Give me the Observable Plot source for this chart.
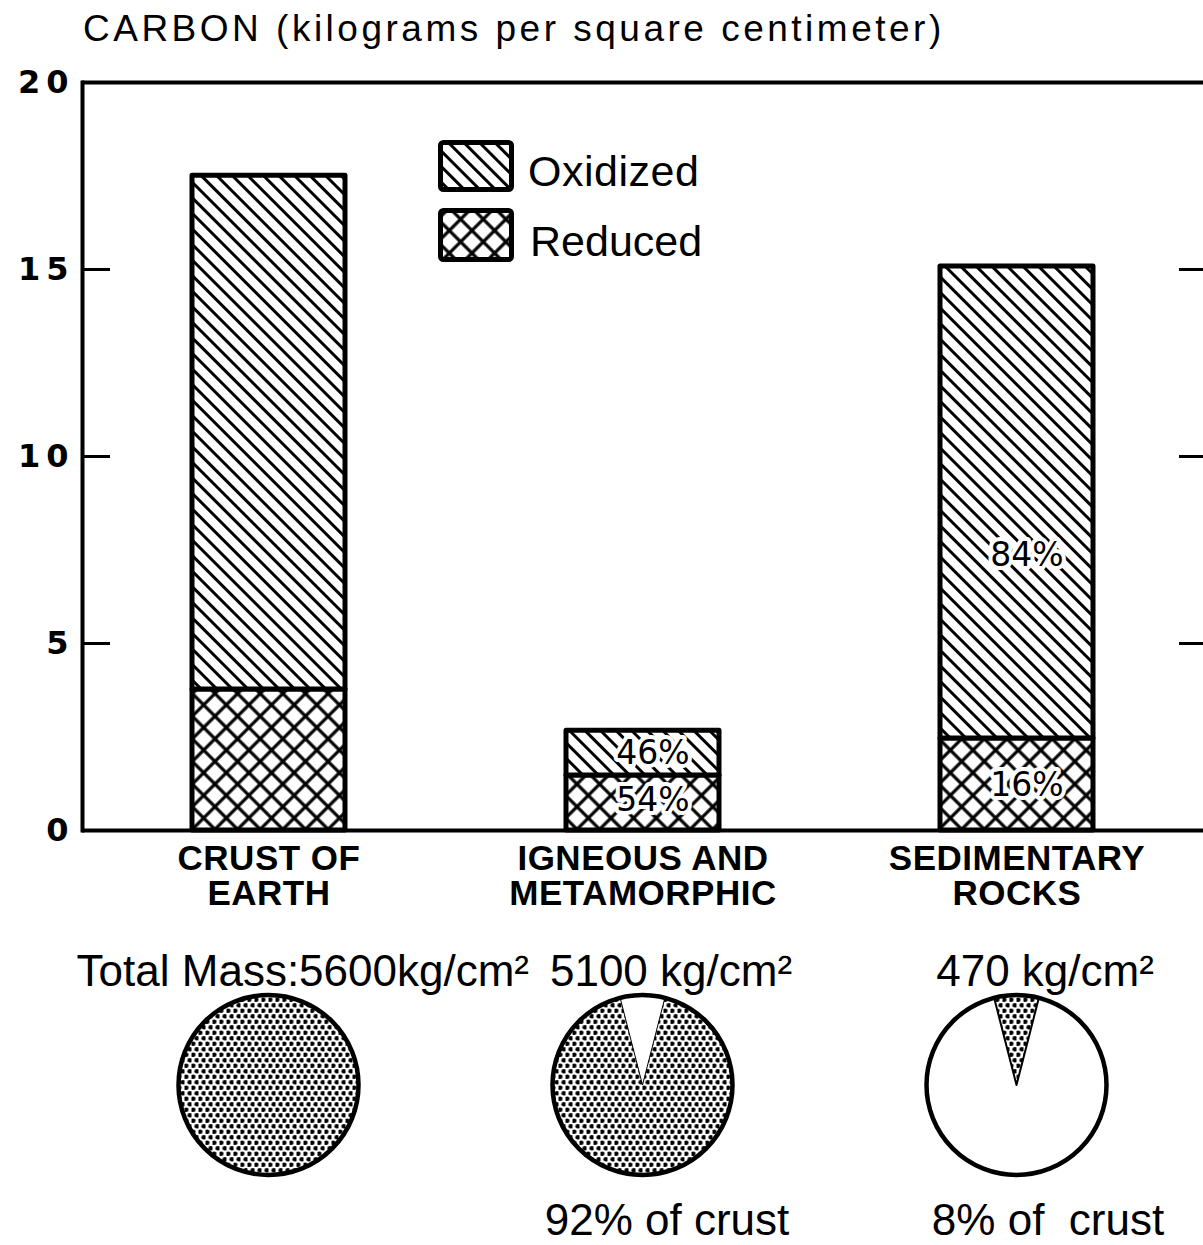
<!DOCTYPE html>
<html>
<head>
<meta charset="utf-8">
<script src="https://cdn.jsdelivr.net/npm/d3@7"></script>
<script src="https://cdn.jsdelivr.net/npm/@observablehq/plot@0.6"></script>
<style>
  html, body { margin: 0; padding: 0; background: #fff; }
  #wrap { position: relative; width: 1203px; height: 1245px; overflow: hidden; background: #fff; }
  #title { position: relative; height: 60px; }
  #title span { position: absolute; left: 83px; top: 10px; font-family: "Liberation Sans", Arial, sans-serif; font-size: 37px; line-height: 37px; letter-spacing: 3.5px; color: #000; white-space: nowrap; }
  #legend { position: absolute; left: 438px; top: 140px; }
  .carbon g[aria-label="y-axis tick label"] text { letter-spacing: 6px; }
  .carbon g[aria-label="pct"] text { letter-spacing: 4px; }
  .carbon g[aria-label="mass"] text { letter-spacing: 0.6px; }
  .carbon g[aria-label="share"] text { letter-spacing: 0.8px; }
  .carbon g[aria-label="x-axis tick label"] text { letter-spacing: 0.5px; }
</style>
</head>
<body>
<svg width="0" height="0" style="position:absolute">
  <defs>
    <pattern id="hatch" patternUnits="userSpaceOnUse" width="11" height="11" patternTransform="rotate(45)">
      <rect width="11" height="11" fill="#fff"/>
      <line x1="-1" y1="5.5" x2="12" y2="5.5" stroke="#000" stroke-width="3"/>
    </pattern>
    <pattern id="cross" patternUnits="userSpaceOnUse" width="16" height="16" patternTransform="rotate(45)">
      <rect width="16" height="16" fill="#fff"/>
      <line x1="-1" y1="8" x2="17" y2="8" stroke="#000" stroke-width="3.2"/>
      <line x1="8" y1="-1" x2="8" y2="17" stroke="#000" stroke-width="3.2"/>
    </pattern>
    <pattern id="dots" patternUnits="userSpaceOnUse" width="7" height="11">
      <rect width="7" height="11" fill="#fff"/>
      <circle cx="1.75" cy="2.75" r="2.3" fill="#000"/>
      <circle cx="5.25" cy="8.25" r="2.3" fill="#000"/>
    </pattern>
  </defs>
</svg>
<div id="wrap">
  <div id="title"><span>CARBON (kilograms per square centimeter)</span></div>
  <div id="chart"></div>
  <svg id="legend" width="290" height="130">
    <rect x="2.5" y="2.5" width="71" height="47" rx="3" fill="url(#hatch)" stroke="#000" stroke-width="5"/>
    <rect x="2.5" y="70.5" width="71" height="49" rx="3" fill="url(#cross)" stroke="#000" stroke-width="5"/>
    <text x="90" y="46" font-family="Liberation Sans, Arial, sans-serif" font-size="43" letter-spacing="0.5">Oxidized</text>
    <text x="92" y="116" font-family="Liberation Sans, Arial, sans-serif" font-size="43" letter-spacing="0">Reduced</text>
  </svg>
</div>
<script>
// ---- data ----
const categories = ["CRUST OF\nEARTH", "IGNEOUS AND\nMETAMORPHIC", "SEDIMENTARY\nROCKS"];
const seriesNames = ["Reduced", "Oxidized"];
const reducedValues = [3.77, 1.47, 2.46];     // kg C / cm^2
const oxidizedValues = [13.74, 1.2, 12.62];   // kg C / cm^2
const yTicks = [0, 5, 10, 15, 20];
const innerTicks = [5, 10, 15];
const pctCategoryIndex = [1, 1, 2, 2];
const pctTexts = ["54%", "46%", "16%", "84%"];
const pctValues = [0.8, 2.05, 1.2, 7.35];
const massLabels = ["Total Mass:5600kg/cm²", "5100 kg/cm²", "470 kg/cm²"];
const crustShare = [100, 92, 8];              // % of crust mass
const shareLabels = ["", "92% of crust", "8% of  crust"];

// ---- tables built from the arrays ----
const rows = categories.flatMap((c, i) => [
  {cat: c, series: "Reduced", value: reducedValues[i]},
  {cat: c, series: "Oxidized", value: oxidizedValues[i]}
]);
const pctRows = pctTexts.map((t, i) => ({cat: categories[pctCategoryIndex[i]], text: t, value: pctValues[i]}));
const massRows = categories.map((c, i) => ({cat: c, label: massLabels[i], share: crustShare[i], shareLabel: shareLabels[i]}));

const FONT = "Liberation Sans, Arial, sans-serif";

function pies(index, scales, values, dimensions) {
  const g = d3.create("svg:g").attr("aria-label", "pies");
  const xs = scales.x;
  const bw = xs.bandwidth ? xs.bandwidth() : 0;
  const cy = dimensions.height - dimensions.marginBottom + 255;
  const r = 90;
  const arc = d3.arc().innerRadius(0).outerRadius(r);
  massRows.forEach((d) => {
    const cx = xs(d.cat) + bw / 2;
    const share = d.share / 100;
    const gi = g.append("g").attr("transform", `translate(${cx},${cy})`);
    gi.append("circle").attr("r", r).attr("fill", share >= 0.5 ? "url(#dots)" : "#fff");
    if (share > 0 && share < 1) {
      const minor = Math.min(share, 1 - share);
      const a = minor * Math.PI;
      gi.append("path")
        .attr("d", arc({startAngle: -a, endAngle: a}))
        .attr("fill", share >= 0.5 ? "#fff" : "url(#dots)")
        .attr("stroke", "#000")
        .attr("stroke-width", share >= 0.5 ? 1 : 2)
        .attr("stroke-linejoin", "round");
    }
    gi.append("circle").attr("r", r).attr("fill", "none").attr("stroke", "#000").attr("stroke-width", 4.5);
  });
  return g.node();
}

const chart = Plot.plot({
  className: "carbon",
  width: 1203,
  height: 1185,
  marginLeft: 82,
  marginRight: 0,
  marginTop: 22,
  marginBottom: 415,
  style: {fontFamily: FONT, color: "#000", background: "#fff", overflow: "visible"},
  x: {domain: categories, paddingInner: 0.591, paddingOuter: 0.294, axis: null},
  y: {domain: [0, 20], axis: null},
  color: {domain: seriesNames, range: ["url(#cross)", "url(#hatch)"]},
  marks: [
    Plot.barY(rows, {x: "cat", y: "value", fill: "series", stroke: "#000", strokeWidth: 5, strokeLinejoin: "round"}),
    Plot.text(pctRows, {x: "cat", y: "value", text: "text", fontSize: 33, fontFamily: "DejaVu Sans, sans-serif",
      fill: "#000", stroke: "#fff", strokeWidth: 8, paintOrder: "stroke", dx: 10, ariaLabel: "pct"}),
    Plot.frame({anchor: "left", strokeWidth: 4}),
    Plot.ruleY([0, 20], {strokeWidth: 4}),
    Plot.axisY({anchor: "left", ticks: yTicks, tickSize: 0, tickPadding: 8, label: null,
      fontSize: 32, fontWeight: "bold", fontFamily: "DejaVu Sans, sans-serif"}),
    Plot.axisY({anchor: "left", ticks: innerTicks, tickSize: 28, dx: 28, strokeWidth: 3, tickFormat: () => "", label: null}),
    Plot.axisY({anchor: "right", ticks: innerTicks, tickSize: 25, dx: -25, strokeWidth: 3, tickFormat: () => "", label: null}),
    Plot.axisX({anchor: "bottom", tickSize: 0, tickPadding: 15, label: null, fontSize: 35, fontWeight: "bold",
      fontFamily: FONT, lineHeight: 1.0}),
    pies,
    Plot.text(massRows.slice(0, 1), {x: "cat", text: "label", frameAnchor: "bottom", lineAnchor: "bottom", dy: 155,
      textAnchor: "end", dx: 260, fontSize: 44, fontFamily: FONT, ariaLabel: "mass"}),
    Plot.text(massRows.slice(1), {x: "cat", text: "label", frameAnchor: "bottom", lineAnchor: "bottom", dy: 155,
      dx: 28, fontSize: 44, fontFamily: FONT, ariaLabel: "mass"}),
    Plot.text(massRows.slice(1, 2), {x: "cat", text: "shareLabel", frameAnchor: "bottom", lineAnchor: "bottom", dy: 404,
      dx: 24, fontSize: 44, fontFamily: FONT, ariaLabel: "share"}),
    Plot.text(massRows.slice(2, 3), {x: "cat", text: "shareLabel", frameAnchor: "bottom", lineAnchor: "bottom", dy: 404,
      dx: 31, fontSize: 44, fontFamily: FONT, ariaLabel: "share"})
  ]
});
document.getElementById("chart").appendChild(chart);
</script>
</body>
</html>
